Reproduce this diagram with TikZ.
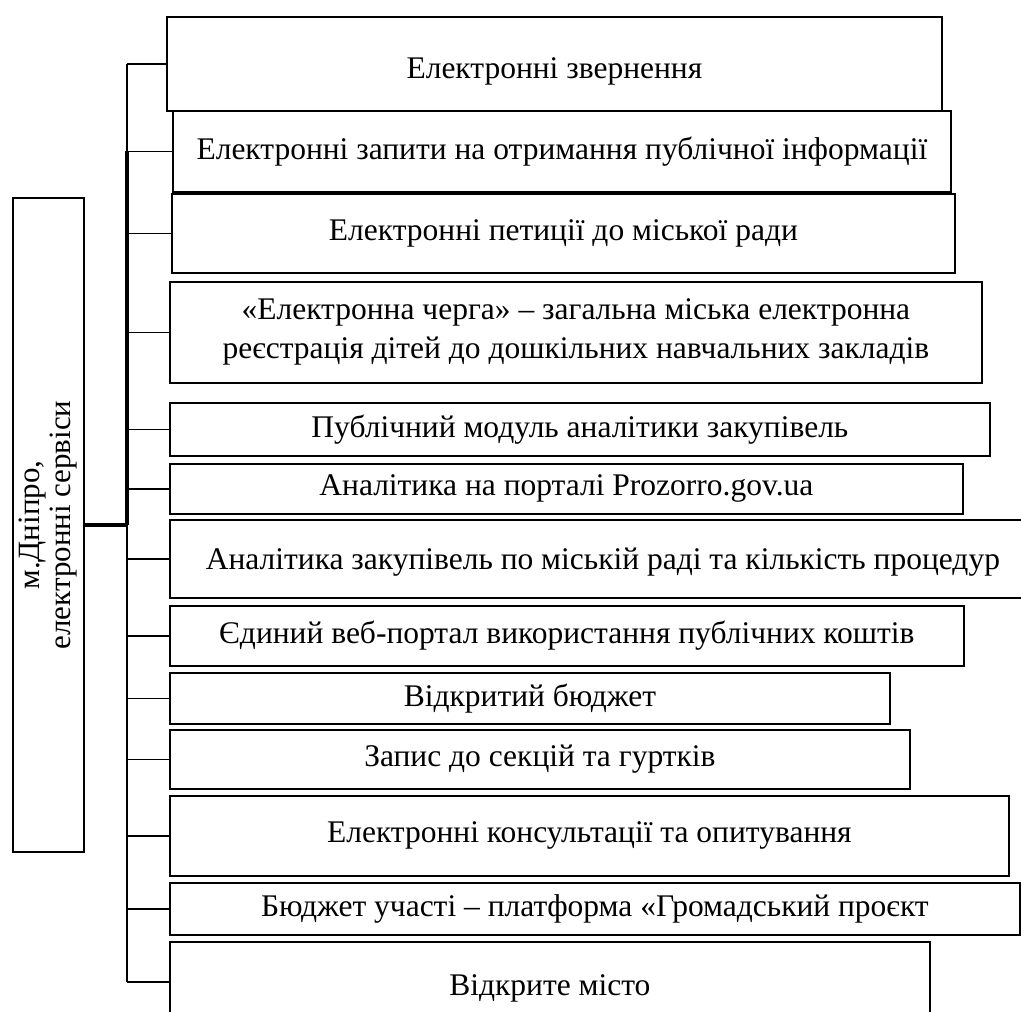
\documentclass[tikz,border=0pt]{standalone}
\usepackage{fontspec}
\setmainfont{Liberation Serif}
\usetikzlibrary{positioning}
\tikzset{
  blok/.style={draw,line width=1.8pt,anchor=north west,inner sep=0pt,align=center,
    font=\fontsize{31.5}{39}\selectfont},
  misto/.style={draw,line width=1.8pt,inner sep=0pt,align=center,
    font=\fontsize{31}{31}\selectfont},
  gil/.style={line width=1.6pt},
  stovb/.style={line width=4pt},
}

\begin{document}
\begin{tikzpicture}[x=1pt,y=-1pt]
  \useasboundingbox (0,0) rectangle (1021,1012);
  % головний блок
  \node[misto,minimum width=71pt,minimum height=654pt] (m) at (48.5,525)
    {\rotatebox{90}{\begin{tabular}{@{}c@{}}м.Дніпро,\\ електронні сервіси\end{tabular}}};
  % сервіси
  \node[blok,minimum width=775pt,minimum height=94pt,text height=36pt] (s1) at (166,16) {Електронні звернення};
  \node[blok,minimum width=778pt,minimum height=81pt] (s2) at (172,110) {Електронні запити на отримання публічної інформації};
  \node[blok,minimum width=783pt,minimum height=79pt] (s3) at (171,193) {Електронні петиції до міської ради};
  \node[blok,minimum width=812pt,minimum height=101pt] (s4) at (169,281) {«Електронна черга» – загальна міська електронна\\ реєстрація дітей до дошкільних навчальних закладів};
  \node[blok,minimum width=820pt,minimum height=53pt] (s5) at (169,402) {Публічний модуль аналітики закупівель};
  \node[blok,minimum width=793pt,minimum height=50pt] (s6) at (169,463) {Аналітика на порталі Prozorro.gov.ua};
  \node[blok,minimum width=866pt,minimum height=78pt,text height=27pt] (s7) at (169,519) {Аналітика закупівель по міській раді та кількість процедур};
  \node[blok,minimum width=794pt,minimum height=60pt] (s8) at (169,605) {Єдиний веб-портал використання публічних коштів};
  \node[blok,minimum width=720pt,minimum height=51pt] (s9) at (169,672) {Відкритий бюджет};
  \node[blok,minimum width=740pt,minimum height=59pt] (s10) at (169,729) {Запис до секцій та гуртків};
  \node[blok,minimum width=839pt,minimum height=80pt] (s11) at (169,795) {Електронні консультації та опитування};
  \node[blok,minimum width=850pt,minimum height=52pt] (s12) at (169,882) {Бюджет участі – платформа «Громадський проєкт};
  \node[blok,minimum width=760pt,minimum height=80pt,text height=34pt] (s13) at (169,941) {Відкрите місто};
  % стовбур і гілки
  \coordinate (tr) at (127,0);
  \draw[gil] (s1.west -| tr) -- (s13.west -| tr);
  \draw[stovb] (s2.west -| tr) -- (m.east -| tr);
  \draw[stovb] (m.east) -- (m.east -| tr);
  \foreach \i in {1,...,13}
    \draw[gil] (s\i.west -| tr) -- (s\i.west);
\end{tikzpicture}
\end{document}
